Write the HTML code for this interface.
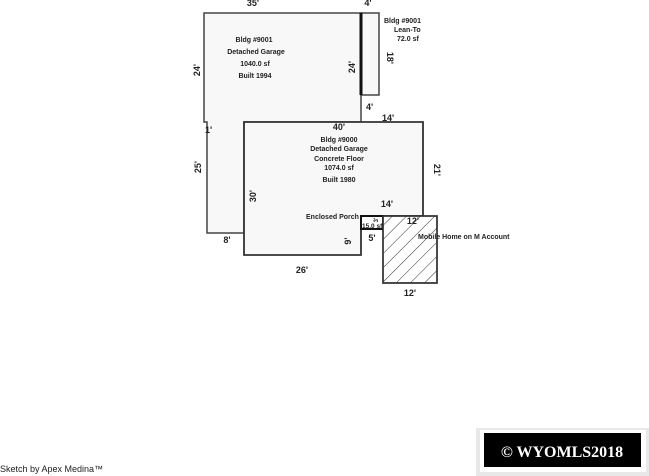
<!DOCTYPE html>
<html><head><style>
html,body{margin:0;padding:0;background:#fff;}
svg{display:block;}
text{font-family:"Liberation Sans",Arial,sans-serif;fill:#222;}
.s{font-size:7px;font-weight:bold;}
.d{font-size:9px;font-weight:bold;}
</style></head><body>
<svg width="649" height="476" viewBox="0 0 649 476" xmlns="http://www.w3.org/2000/svg">
<defs>
<pattern id="h" width="10" height="10" patternUnits="userSpaceOnUse" patternTransform="rotate(45)">
<line x1="0" y1="0" x2="0" y2="10" stroke="#333" stroke-width="1"/>
</pattern>
</defs>
<path d="M204 13 H361 V122 H244 V233 H207 V122 H204 Z" fill="#f8f8f8" stroke="#444" stroke-width="1.5"/>
<rect x="361" y="13" width="18" height="82" fill="#f8f8f8" stroke="#444" stroke-width="1.5"/>
<line x1="361" y1="13" x2="361" y2="95" stroke="#111" stroke-width="3"/>
<path d="M244 122 H423 V216 H361 V255 H244 Z" fill="#f8f8f8" stroke="#333" stroke-width="1.8"/>
<rect x="361" y="216" width="22" height="13" fill="#fff" stroke="#111" stroke-width="2"/>
<rect x="383" y="216" width="54" height="67" fill="#fff" stroke="#333" stroke-width="1.5"/>
<rect x="383" y="216" width="54" height="67" fill="url(#h)" stroke="#333" stroke-width="1.5"/>
<text class="d" x="253" y="6" text-anchor="middle">35'</text>
<text class="d" x="368" y="6" text-anchor="middle">4'</text>
<text class="s" x="254" y="42" text-anchor="middle">Bldg #9001</text>
<text class="s" x="256" y="54" text-anchor="middle">Detached Garage</text>
<text class="s" x="255" y="66" text-anchor="middle">1040.0 sf</text>
<text class="s" x="255" y="78" text-anchor="middle">Built 1994</text>
<text class="s" x="384" y="23">Bldg #9001</text>
<text class="s" x="394" y="32">Lean-To</text>
<text class="s" x="397" y="41">72.0 sf</text>
<text class="d" transform="translate(200,70) rotate(-90)" text-anchor="middle">24'</text>
<text class="d" transform="translate(355,67) rotate(-90)" text-anchor="middle">24'</text>
<text class="d" transform="translate(387,58) rotate(90)" text-anchor="middle">18'</text>
<text class="d" x="366" y="110">4'</text>
<text class="d" x="382" y="121">14'</text>
<text class="d" x="205" y="133">1'</text>
<text class="d" transform="translate(201,167) rotate(-90)" text-anchor="middle">25'</text>
<text class="d" x="227" y="243" text-anchor="middle">8'</text>
<text class="d" x="339" y="130" text-anchor="middle">40'</text>
<text class="s" x="339" y="142" text-anchor="middle">Bldg #9000</text>
<text class="s" x="339" y="151" text-anchor="middle">Detached Garage</text>
<text class="s" x="339" y="161" text-anchor="middle">Concrete Floor</text>
<text class="s" x="339" y="170" text-anchor="middle">1074.0 sf</text>
<text class="s" x="339" y="182" text-anchor="middle">Built 1980</text>
<text class="d" transform="translate(434,170) rotate(90)" text-anchor="middle">21'</text>
<text class="d" transform="translate(256,196) rotate(-90)" text-anchor="middle">30'</text>
<text class="d" x="387" y="207" text-anchor="middle">14'</text>
<text class="s" x="306" y="219">Enclosed Porch</text>
<text class="s" x="362" y="228" style="font-size:6.5px">15.0 sf</text>
<text class="s" transform="translate(378,220) rotate(-90)" text-anchor="middle" style="font-size:6px">3'</text>
<text class="d" x="413" y="224" text-anchor="middle">12'</text>
<text class="s" x="418" y="239">Mobile Home on M Account</text>
<text class="d" x="372" y="241" text-anchor="middle">5'</text>
<text class="d" transform="translate(351,241) rotate(-90)" text-anchor="middle">9'</text>
<text class="d" x="302" y="273" text-anchor="middle">26'</text>
<text class="d" x="410" y="296" text-anchor="middle">12'</text>
<text x="0" y="472" style="font-size:9px">Sketch by Apex Medina™</text>
<rect x="476" y="428" width="173" height="48" fill="#e8e8e8"/>
<rect x="480" y="430" width="166" height="42" fill="#fff"/>
<rect x="484" y="433" width="157" height="34" fill="#000"/>
<text x="562" y="457" text-anchor="middle" style="font-family:'Liberation Serif',serif;font-size:16px;font-weight:bold;fill:#fff;">© WYOMLS2018</text>
</svg>
</body></html>
